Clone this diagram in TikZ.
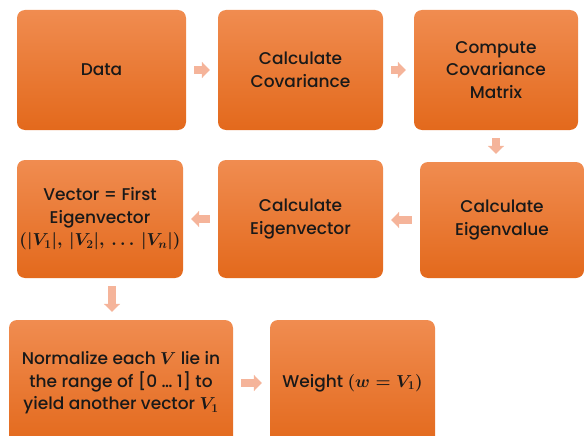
\documentclass[tikz,border=0pt]{standalone}
\usepackage{fontspec}
\setmainfont{Poppins Medium}
\usetikzlibrary{arrows.meta, positioning, calc}
\definecolor{ctop}{HTML}{F08C50}
\definecolor{cbot}{HTML}{E3691C}
\definecolor{carr}{HTML}{F5B49A}
\begin{document}
\begin{tikzpicture}[
  x=1pt, y=-1pt,
  font=\fontsize{17}{22.5}\selectfont\boldmath,
  box/.style={rounded corners=8pt, align=center, top color=ctop, bottom color=cbot,
              minimum height=120pt, inner sep=0pt, text=black!90},
  conn/.style={-{Triangle[length=8pt, width=16pt]}, line width=8pt, draw=carr,
               shorten <=8pt, shorten >=8pt},
  ]
\useasboundingbox (0,0) rectangle (584,436);
% ---- row 1
\node[box, minimum width=169pt] (data) at (101.5,70) {Data};
\node[box, minimum width=165pt] (cov)  at (300.5,70) {Calculate\\Covariance};
\node[box, minimum width=164pt] (mat)  at (496,70)   {Compute\\Covariance\\Matrix};
% ---- row 2
\node[box, minimum width=166pt, minimum height=118pt] (vec) at (100,219)
  {Vector = First\\Eigenvector\\$(|V_{1}|,\,|V_{2}|,\,\dots\,|V_{n}|)$};
\node[box, minimum width=165pt, minimum height=118pt] (evec) at (300.5,219)
  {Calculate\\Eigenvector};
\node[box, minimum width=164pt, minimum height=116pt] (eval) at (502,220)
  {Calculate\\Eigenvalue};
% ---- row 3
\node[box, minimum width=224pt, minimum height=126pt] (norm) at (121,383)
  {Normalize each $V$ lie in\\the range of [0 \dots\ 1] to\\yield another vector $V_1$};
\node[box, minimum width=165pt, minimum height=126pt] (weight) at (352.5,383)
  {Weight $(w = V_1)$};
% arrows
\draw[conn] (data) -- (cov);
\draw[conn] (cov) -- (mat);
\draw[conn] (mat.south) -- (mat.south |- eval.north);
\draw[conn] (eval.west) -- (eval.west -| evec.east);
\draw[conn] (evec) -- (vec);
\draw[conn] ([xshift=12pt]vec.south) -- ([xshift=12pt]vec.south |- norm.north);
\draw[conn] (norm.east |- weight) -- (weight);
\end{tikzpicture}
\end{document}
